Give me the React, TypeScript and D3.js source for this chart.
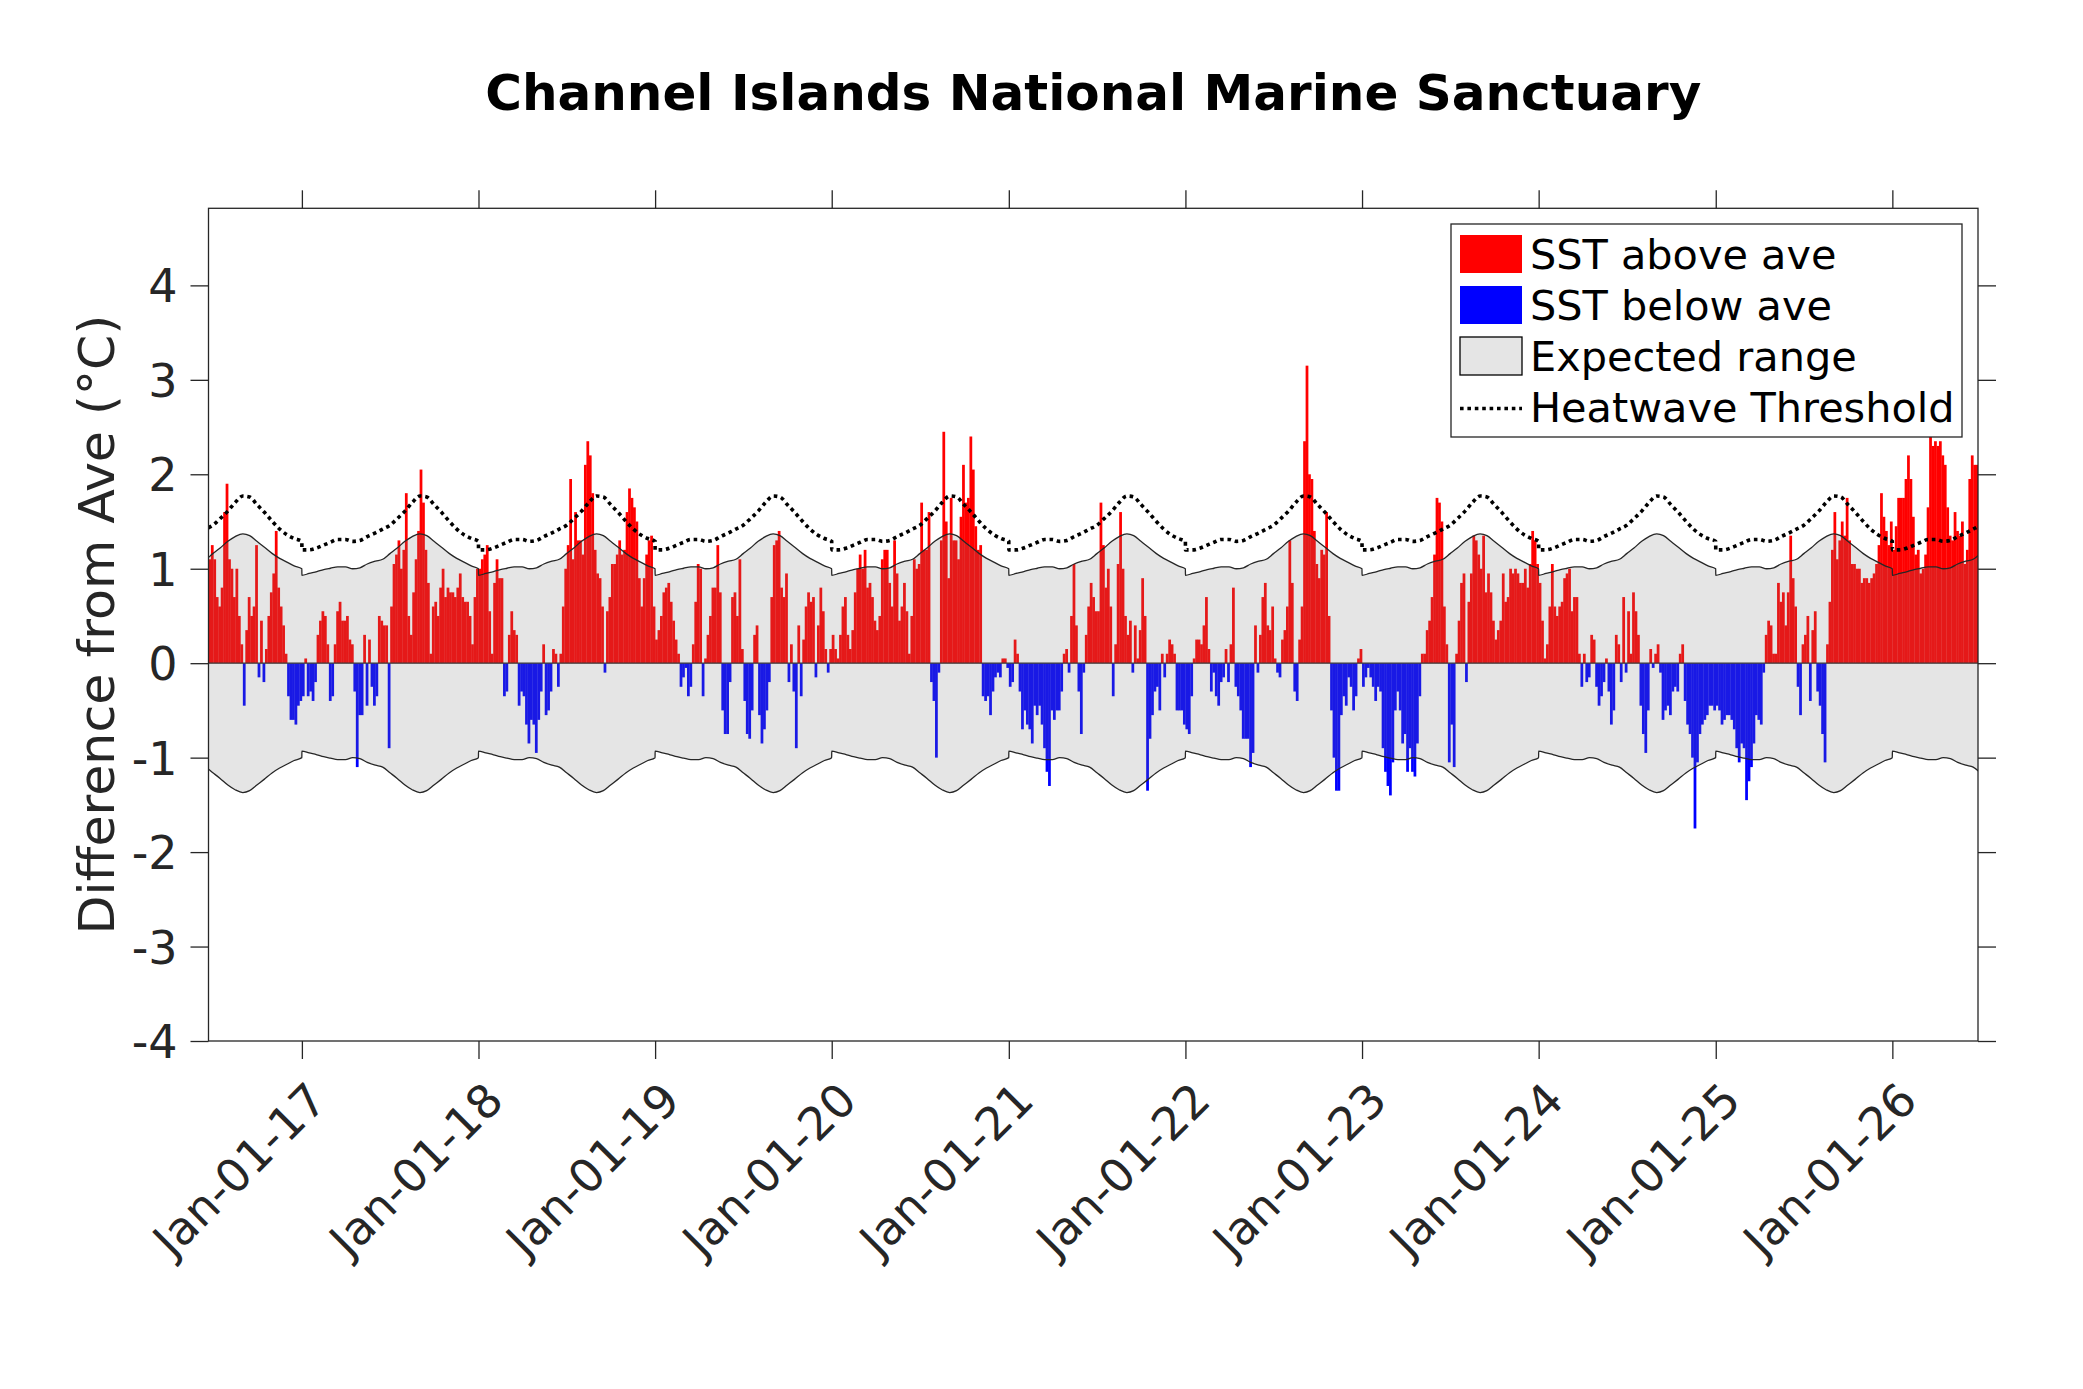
import React, { useRef, useEffect } from 'react';
import * as d3 from 'd3';

// SST anomaly from average (°C). 72 bins a year (~5 days each).
// 2016 starts at bin 34 (late June), 2026 stops at bin 35 (late June).
const anom2016 = [
  1.1, 1.25, 1.1, 0.7, 0.6, 0.8, 1.6, 1.9, 1.1, 1.0, 0.7, 1.0,
  0.5, 0.2, -0.45, 0.35, 0.7, 0.5, 0.6, 1.25, -0.15, 0.45, -0.2, 0.15,
  0.5, 0.75, 0.95, 1.4, 0.8, 0.6, 0.4, 0.1, -0.35, -0.6, -0.6, -0.65,
  -0.45, -0.4,
];
const anom2017 = [
  -0.35, 0.05, -0.35, -0.3, -0.4, -0.2, 0.3, 0.45, 0.55, 0.5, 0.2, -0.4,
  -0.35, 0.2, 0.55, 0.65, 0.45, 0.45, 0.5, 0.25, 0.2, -0.3, -1.1, -0.55,
  -0.55, 0.3, -0.45, 0.25, -0.25, -0.45, -0.35, 0.5, 0.45, 0.4, 0.4, -0.9,
  0.6, 1.05, 1.15, 1.3, 1.0, 1.2, 1.8, 0.5, 0.3, 0.75, 1.1, 1.4,
  2.05, 1.7, 1.2, 0.85, 0.1, 0.6, 0.65, 0.5, 0.8, 1.0, 0.7, 0.8,
  0.75, 0.75, 0.7, 0.8, 0.95, 0.7, 0.65, 0.65, 0.5, 0.2, 0.7, 1.0,
];
const anom2018 = [
  1.0, 1.1, 1.15, 1.25, 0.55, 0.1, 0.85, 1.1, 0.9, 0.9, -0.35, -0.3,
  0.3, 0.55, 0.35, 0.3, -0.45, -0.3, -0.35, -0.65, -0.85, -0.6, -0.65, -0.95,
  -0.6, -0.3, 0.2, -0.55, -0.5, -0.3, 0.15, 0.1, -0.25, 0.1, 0.6, 1.0,
  1.25, 1.95, 1.1, 1.6, 1.3, 1.3, 1.15, 2.1, 2.35, 2.2, 1.8, 1.2,
  0.95, 0.9, 0.6, -0.1, 0.55, 0.7, 1.05, 1.05, 1.15, 1.3, 1.15, 1.2,
  1.6, 1.85, 1.75, 1.65, 1.5, 0.9, 0.6, 0.9, 1.15, 1.3, 1.35, 0.6,
];
const anom2019 = [
  0.25, 0.35, 0.5, 0.75, 0.8, 0.85, 0.65, 0.45, 0.25, 0.1, -0.25, -0.15,
  -0.05, -0.35, -0.25, 0.2, 0.65, 1.05, 1.0, -0.35, 0.05, 0.3, 0.5, 0.8,
  0.8, 1.25, 0.75, -0.5, -0.75, -0.75, -0.2, 0.7, 0.75, 0.5, 1.1, 0.15,
  -0.4, -0.75, -0.8, -0.5, 0.3, 0.4, -0.55, -0.85, -0.7, -0.5, -0.2, 0.7,
  1.25, 1.3, 1.4, 0.8, 0.7, 0.95, -0.2, 0.2, -0.3, -0.9, 0.4, -0.35,
  0.25, 0.6, 0.75, 0.65, 0.7, -0.15, 0.4, 0.8, 0.55, 0.15, -0.1, 0.15,
];
const anom2020 = [
  0.3, 0.15, 0.05, 0.3, 0.6, 0.7, 0.3, 0.15, 0.35, 0.75, 1.0, 1.15,
  1.0, 1.2, 0.8, 0.85, 0.7, 0.45, 0.35, 0.5, 1.1, 1.2, 1.2, 0.85,
  0.6, 1.3, 0.95, 0.45, 0.6, 0.85, 0.55, 0.1, 0.5, 1.1, 1.0, 1.05,
  1.7, 1.2, 1.2, 1.6, -0.2, -0.4, -1.0, -0.1, 1.3, 2.45, 1.5, 0.9,
  1.75, 1.3, 1.3, 1.1, 1.55, 2.1, 1.7, 1.75, 2.4, 2.05, 1.45, 1.2,
  1.25, -0.35, -0.4, -0.35, -0.55, -0.3, -0.15, -0.1, -0.15, 0.05, 0.05, -0.05,
];
const anom2021 = [
  -0.25, -0.2, 0.25, 0.1, -0.3, -0.7, -0.5, -0.65, -0.7, -0.85, -0.45, -0.55,
  -0.45, -0.65, -0.9, -1.15, -1.3, -0.5, -0.6, -0.5, -0.5, -0.3, 0.1, 0.15,
  -0.1, 0.5, 1.05, 0.4, -0.3, -0.75, -0.1, 0.3, 0.6, 0.85, 0.7, 0.55,
  0.55, 1.7, 1.25, 0.8, 1.0, 0.6, -0.35, 0.2, 1.05, 1.6, 1.0, 0.5,
  0.3, 0.45, -0.1, 0.4, 0.05, 0.35, 0.9, 0.5, -1.35, -0.8, -0.55, -0.3,
  -0.25, -0.5, 0.1, -0.15, 0.1, 0.25, 0.2, 0.1, -0.5, -0.5, -0.5, -0.65,
];
const anom2022 = [
  -0.7, -0.75, -0.35, 0.05, 0.25, 0.25, 0.2, 0.4, 0.7, 0.15, -0.3, -0.1,
  -0.35, -0.45, -0.2, -0.15, 0.15, -0.2, 0.2, 0.8, -0.25, -0.35, -0.5, -0.8,
  -0.8, -0.8, -1.1, -0.95, 0.4, -0.1, 0.3, 0.7, 0.85, 0.4, 0.35, 0.6,
  0.05, -0.1, -0.15, 0.25, 0.35, 0.6, 1.3, 0.85, -0.3, -0.4, 0.25, 0.6,
  2.35, 3.15, 2.0, 1.95, 1.4, 1.05, 0.9, 1.2, 1.15, 1.6, 0.5, -0.5,
  -1.0, -1.35, -1.35, -0.55, -0.35, -0.45, -0.15, -0.25, -0.5, -0.35, 0.05, 0.15,
];
const anom2023 = [
  -0.25, -0.15, -0.05, -0.15, -0.25, -0.4, -0.25, -0.3, -0.9, -1.15, -1.3, -1.4,
  -1.05, -0.5, -0.3, -0.5, -0.85, -0.75, -1.15, -0.9, -1.15, -1.2, -0.85, -0.35,
  0.1, 0.1, 0.35, 0.45, 0.7, 1.15, 1.75, 1.7, 1.5, 0.6, 0.2, -1.05,
  -0.65, -1.1, 0.1, 0.45, 0.85, 0.95, -0.2, 0.65, 0.95, 1.35, 1.3, 1.15,
  1.0, 1.35, 0.75, 0.95, 0.75, 0.45, 0.25, 0.35, 0.45, 0.95, 0.65, 0.7,
  1.0, 0.95, 1.0, 0.95, 0.85, 0.85, 1.0, 0.8, 1.05, 1.4, 1.3, 1.05,
];
const anom2024 = [
  0.85, 0.45, 0.05, 0.2, 0.6, 1.05, 0.6, 0.5, 0.6, 0.65, 0.9, 0.95,
  1.0, 0.55, 0.7, 0.7, 0.1, -0.25, 0.1, -0.2, -0.15, 0.3, 0.25, -0.25,
  -0.45, -0.35, -0.2, 0.05, -0.3, -0.65, -0.5, 0.3, 0.2, -0.2, 0.7, -0.1,
  0.55, 0.1, 0.75, 0.55, 0.3, -0.45, -0.75, -0.95, -0.5, 0.15, -0.05, 0.1,
  0.2, -0.1, -0.6, -0.5, -0.45, -0.55, -0.3, -0.25, -0.3, 0.1, 0.2, -0.4,
  -0.65, -0.75, -1.0, -1.75, -1.05, -0.75, -0.65, -0.6, -0.55, -0.45, -0.45, -0.5,
];
const anom2025 = [
  -0.45, -0.5, -0.65, -0.6, -0.55, -0.55, -0.6, -0.7, -0.9, -1.05, -0.85, -0.9,
  -1.45, -1.25, -1.1, -0.85, -0.55, -0.6, -0.65, -0.1, 0.3, 0.45, 0.4, 0.1,
  0.1, 0.85, 0.65, 0.75, 0.4, 0.75, 1.35, 0.9, 0.6, -0.25, -0.55, 0.2,
  0.3, 0.5, -0.4, 0.35, 0.55, -0.3, -0.45, -0.75, -1.05, 0.2, 0.65, 1.2,
  1.6, 1.1, 1.3, 1.5, 1.35, 1.75, 1.3, 1.05, 1.05, 1.0, 1.0, 0.85,
  0.9, 0.9, 0.85, 0.9, 0.95, 1.05, 1.25, 1.8, 1.55, 1.4, 1.25, 1.5,
];
const anom2026 = [
  1.2, 1.45, 1.75, 1.75, 1.75, 1.95, 2.2, 1.95, 1.55, 1.15, 1.2, 0.95,
  1.0, 1.15, 1.65, 2.4, 2.3, 2.35, 2.3, 2.35, 2.2, 2.1, 1.65, 1.35,
  1.3, 1.6, 1.4, 1.35, 1.5, 1.05, 1.2, 1.95, 2.2, 2.1, 2.1, 2.0,
];

// Climatology, repeated every year (day of year -> °C)
const climDoy = [0, 15, 31, 45, 59, 74, 90, 105, 120, 135, 152, 167, 182, 197, 213, 228, 244, 258, 273, 288, 305, 320, 335, 350, 365];
const rangeUpper = [0.93, 0.95, 0.97, 0.99, 1.005, 1.02, 1.02, 1.0, 1.01, 1.05, 1.08, 1.1, 1.16, 1.22, 1.29, 1.34, 1.37, 1.35, 1.29, 1.23, 1.16, 1.11, 1.07, 1.03, 1.0];
const heatThreshold = [1.2, 1.2, 1.22, 1.25, 1.28, 1.31, 1.31, 1.29, 1.3, 1.34, 1.38, 1.42, 1.46, 1.53, 1.61, 1.7, 1.77, 1.76, 1.68, 1.6, 1.5, 1.42, 1.36, 1.32, 1.29];

const yTicks = [-4, -3, -2, -1, 0, 1, 2, 3, 4];
const xTickYears = [2017, 2018, 2019, 2020, 2021, 2022, 2023, 2024, 2025, 2026];
const legendLabels = ['SST above ave', 'SST below ave', 'Expected range', 'Heatwave Threshold'];

const W = 2083;
const H = 1389;
const plotLeft = 208.5;
const plotRight = 1978;
const plotTop = 208.3;
const plotBottom = 1041;
const axisColor = '#262626';
const font = '"DejaVu Sans", sans-serif';

interface Bin { start: number; end: number; v: number; }
interface ClimPoint { t: number; v: number; }

const seasons = [
  { year: 2016, first: 34, values: anom2016 },
  { year: 2017, first: 0, values: anom2017 },
  { year: 2018, first: 0, values: anom2018 },
  { year: 2019, first: 0, values: anom2019 },
  { year: 2020, first: 0, values: anom2020 },
  { year: 2021, first: 0, values: anom2021 },
  { year: 2022, first: 0, values: anom2022 },
  { year: 2023, first: 0, values: anom2023 },
  { year: 2024, first: 0, values: anom2024 },
  { year: 2025, first: 0, values: anom2025 },
  { year: 2026, first: 0, values: anom2026 },
];

const bins: Bin[] = seasons.flatMap(s => {
  const j0 = Date.UTC(s.year, 0, 1);
  const len = (Date.UTC(s.year + 1, 0, 1) - j0) / 72;
  return s.values.map((v, i) => ({ start: j0 + (s.first + i) * len, end: j0 + (s.first + i + 1) * len, v }));
});

// the climatology restarts on Jan 1, which gives a small step there
function climPoints(vals: number[]): ClimPoint[] {
  const pts: ClimPoint[] = [];
  for (let yr = 2016; yr <= 2026; yr++) {
    const j0 = Date.UTC(yr, 0, 1);
    const j1 = Date.UTC(yr + 1, 0, 1);
    climDoy.forEach((d, i) => {
      const t = d >= 365 ? j1 - 3.6e6 : j0 + d * 864e5;
      pts.push({ t, v: vals[i] });
    });
  }
  return pts;
}

const App: React.FC = () => {
  const svgRef = useRef<SVGSVGElement | null>(null);

  useEffect(() => {
    const svg = d3.select(svgRef.current);
    svg.selectAll('*').remove();

    const x = d3.scaleUtc()
      .domain([new Date(Date.UTC(2016, 5, 22)), new Date(Date.UTC(2026, 5, 27))])
      .range([plotLeft, plotRight]);
    const y = d3.scaleLinear().domain([-4, 4.816]).range([plotBottom, plotTop]);

    svg.append('rect').attr('width', W).attr('height', H).attr('fill', '#fff');

    svg.append('defs').append('clipPath').attr('id', 'plot-clip')
      .append('rect')
      .attr('x', plotLeft).attr('y', plotTop)
      .attr('width', plotRight - plotLeft).attr('height', plotBottom - plotTop);

    const plot = svg.append('g').attr('clip-path', 'url(#plot-clip)');

    // Bars
    plot.selectAll('rect.bar')
      .data(bins)
      .enter()
      .append('rect')
      .attr('class', 'bar')
      .attr('x', d => x(d.start))
      .attr('width', d => x(d.end) - x(d.start) + 0.3)
      .attr('y', d => y(Math.max(0, d.v)))
      .attr('height', d => Math.abs(y(d.v) - y(0)))
      .attr('fill', d => (d.v >= 0 ? '#ff0000' : '#0000ff'));

    // Expected range (translucent, over the bars)
    const upper = climPoints(rangeUpper);
    plot.append('path')
      .datum(upper)
      .attr('d', d3.area<ClimPoint>().x(d => x(d.t)).y0(d => y(-d.v)).y1(d => y(d.v)).curve(d3.curveMonotoneX))
      .attr('fill', '#7f7f7f')
      .attr('fill-opacity', 0.2);
    [1, -1].forEach(sign => {
      plot.append('path')
        .datum(upper)
        .attr('d', d3.line<ClimPoint>().x(d => x(d.t)).y(d => y(sign * d.v)).curve(d3.curveMonotoneX))
        .attr('fill', 'none')
        .attr('stroke', axisColor)
        .attr('stroke-width', 1.3);
    });

    // Bar baseline
    plot.append('line')
      .attr('x1', plotLeft).attr('x2', plotRight)
      .attr('y1', y(0)).attr('y2', y(0))
      .attr('stroke', '#3a3a3a')
      .attr('stroke-width', 1.3);

    // Heatwave threshold
    plot.append('path')
      .datum(climPoints(heatThreshold))
      .attr('d', d3.line<ClimPoint>().x(d => x(d.t)).y(d => y(d.v)).curve(d3.curveMonotoneX))
      .attr('fill', 'none')
      .attr('stroke', '#000')
      .attr('stroke-width', 3.6)
      .attr('stroke-dasharray', '3.6 3.8');

    // Axes
    const xTicks = xTickYears.map(yr => new Date(Date.UTC(yr, 0, 1)));
    const fmt = d3.utcFormat('%b-%d-%y');

    const styleAxis = (g: d3.Selection<SVGGElement, unknown, null, undefined>) => {
      g.select('.domain').remove();
      g.selectAll('line').attr('stroke', axisColor).attr('stroke-width', 1.3);
      g.attr('font-family', font).attr('font-size', 46);
      g.selectAll('text').attr('fill', axisColor);
    };

    const gx = svg.append('g')
      .attr('transform', `translate(0,${plotBottom})`)
      .call(d3.axisBottom(x).tickValues(xTicks).tickFormat(d => fmt(d as Date)).tickSize(18).tickSizeOuter(0));
    styleAxis(gx);
    gx.selectAll('text')
      .attr('x', 0).attr('y', 0).attr('dy', '0.36em')
      .attr('text-anchor', 'end')
      .attr('transform', 'translate(15,50) rotate(-45)');

    const gxTop = svg.append('g')
      .attr('transform', `translate(0,${plotTop})`)
      .call(d3.axisTop(x).tickValues(xTicks).tickFormat(() => '').tickSize(18).tickSizeOuter(0));
    styleAxis(gxTop);

    const gy = svg.append('g')
      .attr('transform', `translate(${plotLeft},0)`)
      .call(d3.axisLeft(y).tickValues(yTicks).tickFormat(d => String(d)).tickSize(18).tickPadding(13).tickSizeOuter(0));
    styleAxis(gy);
    gy.selectAll('text').attr('dy', '0.36em');

    const gyRight = svg.append('g')
      .attr('transform', `translate(${plotRight},0)`)
      .call(d3.axisRight(y).tickValues(yTicks).tickFormat(() => '').tickSize(18).tickSizeOuter(0));
    styleAxis(gyRight);

    svg.append('rect')
      .attr('x', plotLeft).attr('y', plotTop)
      .attr('width', plotRight - plotLeft).attr('height', plotBottom - plotTop)
      .attr('fill', 'none')
      .attr('stroke', axisColor)
      .attr('stroke-width', 1.3);

    // Title and axis label
    svg.append('text')
      .attr('x', (plotLeft + plotRight) / 2)
      .attr('y', 110)
      .attr('text-anchor', 'middle')
      .attr('font-family', font)
      .attr('font-weight', 'bold')
      .attr('font-size', 50)
      .attr('fill', '#000')
      .text('Channel Islands National Marine Sanctuary');

    svg.append('text')
      .attr('transform', `translate(114,${(plotTop + plotBottom) / 2}) rotate(-90)`)
      .attr('text-anchor', 'middle')
      .attr('font-family', font)
      .attr('font-size', 50.6)
      .attr('fill', axisColor)
      .text('Difference from Ave (°C)');

    // Legend
    const lg = svg.append('g').attr('transform', 'translate(1451,224)');
    lg.append('rect')
      .attr('width', 511).attr('height', 213)
      .attr('fill', '#fff')
      .attr('stroke', axisColor)
      .attr('stroke-width', 1.3);
    const rowY = [11, 62, 113, 164];
    lg.append('rect').attr('x', 9).attr('y', rowY[0]).attr('width', 62).attr('height', 38).attr('fill', '#ff0000');
    lg.append('rect').attr('x', 9).attr('y', rowY[1]).attr('width', 62).attr('height', 38).attr('fill', '#0000ff');
    lg.append('rect').attr('x', 9).attr('y', rowY[2]).attr('width', 62).attr('height', 38)
      .attr('fill', '#e5e5e5').attr('stroke', '#000').attr('stroke-width', 1.3);
    lg.append('line')
      .attr('x1', 9).attr('x2', 71).attr('y1', rowY[3] + 20.5).attr('y2', rowY[3] + 20.5)
      .attr('stroke', '#000').attr('stroke-width', 3.6).attr('stroke-dasharray', '3.6 3.8');
    lg.selectAll('text.entry')
      .data(legendLabels)
      .enter()
      .append('text')
      .attr('class', 'entry')
      .attr('x', 79)
      .attr('y', (d, i) => rowY[i] + 34)
      .attr('font-family', font)
      .attr('font-size', 41.4)
      .attr('fill', '#000')
      .text(d => d);
  }, []);

  return (
    <svg ref={svgRef} width={W} height={H} style={{ position: 'absolute', left: 0, top: 0, display: 'block' }} />
  );
};

export default App;
